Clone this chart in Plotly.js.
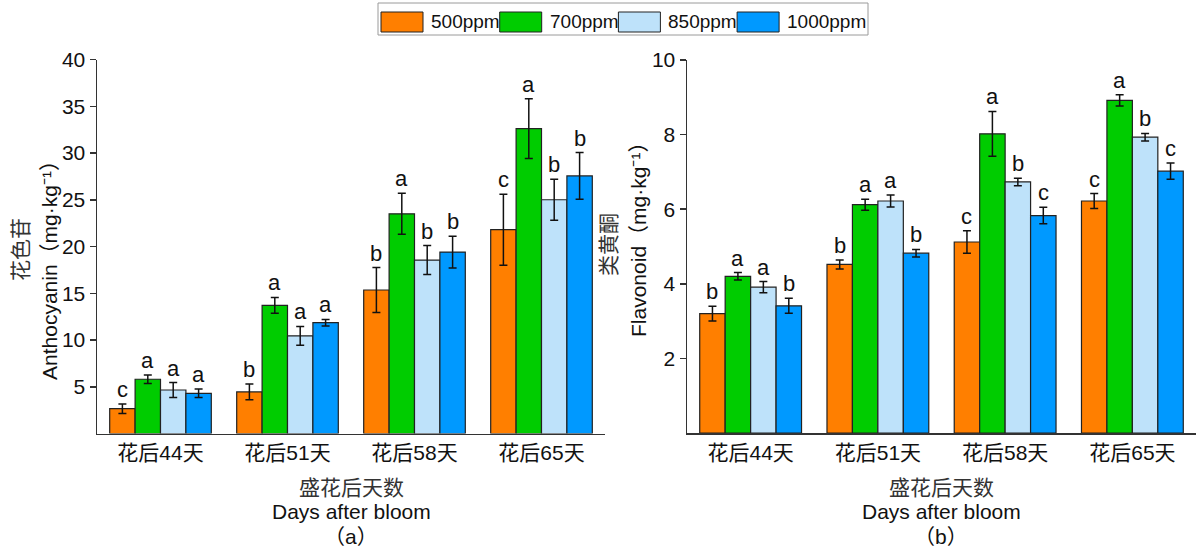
<!DOCTYPE html>
<html>
<head>
<meta charset="utf-8">
<script src="https://cdn.plot.ly/plotly-3.0.1.min.js"></script>
<style>html,body{margin:0;padding:0;background:#fff;}#chart{width:1196px;height:548px;}</style>
</head>
<body>
<div id="chart"></div>
<script>
// ---- data ----
const categories = ['花后44天', '花后51天', '花后58天', '花后65天'];
const seriesNames = ['500ppm', '700ppm', '850ppm', '1000ppm'];

// (a) Anthocyanin
const anth500 = [2.65, 4.45, 15.35, 21.8];
const anth700 = [5.8, 13.7, 23.5, 32.6];
const anth850 = [4.65, 10.45, 18.55, 25.0];
const anth1000 = [4.3, 11.85, 19.4, 27.55];
const anthErr500 = [0.5, 0.85, 2.4, 3.8];
const anthErr700 = [0.45, 0.85, 2.2, 3.2];
const anthErr850 = [0.8, 1.0, 1.55, 2.2];
const anthErr1000 = [0.45, 0.35, 1.7, 2.5];
const anthLetters500 = ['c', 'b', 'b', 'c'];
const anthLetters700 = ['a', 'a', 'a', 'a'];
const anthLetters850 = ['a', 'a', 'b', 'b'];
const anthLetters1000 = ['a', 'a', 'b', 'b'];

// (b) Flavonoid
const flav500 = [3.2, 4.52, 5.12, 6.22];
const flav700 = [4.2, 6.12, 8.02, 8.92];
const flav850 = [3.91, 6.22, 6.73, 7.93];
const flav1000 = [3.41, 4.82, 5.83, 7.02];
const flavErr500 = [0.2, 0.12, 0.3, 0.2];
const flavErr700 = [0.1, 0.15, 0.6, 0.15];
const flavErr850 = [0.15, 0.16, 0.1, 0.1];
const flavErr1000 = [0.2, 0.1, 0.22, 0.22];
const flavLetters500 = ['b', 'b', 'c', 'c'];
const flavLetters700 = ['a', 'a', 'a', 'a'];
const flavLetters850 = ['a', 'a', 'b', 'b'];
const flavLetters1000 = ['b', 'b', 'c', 'c'];

const anthTicks = [5, 10, 15, 20, 25, 30, 35, 40];
const flavTicks = [2, 4, 6, 8, 10];

// ---- styling ----
const colors = ['#FF7F00', '#00CC00', '#BEE2FA', '#0099FF'];
const FONT = 'Liberation Sans, Arial, "Noto Sans CJK SC", sans-serif';
const W = 1196, H = 548;
const px = v => v / W;
const py = v => 1 - v / H;

const xIdx = categories.map((c, i) => i);
const anthVals = [anth500, anth700, anth850, anth1000];
const anthErrs = [anthErr500, anthErr700, anthErr850, anthErr1000];
const anthLets = [anthLetters500, anthLetters700, anthLetters850, anthLetters1000];
const flavVals = [flav500, flav700, flav850, flav1000];
const flavErrs = [flavErr500, flavErr700, flavErr850, flavErr1000];
const flavLets = [flavLetters500, flavLetters700, flavLetters850, flavLetters1000];

const traces = [];
const annotations = [];
const groupWidth = 0.8, nS = seriesNames.length, bw = groupWidth / nS;

function addPanel(vals, errs, lets, xa, ya) {
  vals.forEach((v, k) => {
    traces.push({
      type: 'bar', x: xIdx, y: v, name: seriesNames[k], xaxis: xa, yaxis: ya,
      marker: {color: colors[k], line: {color: '#222', width: 1.2}},
      error_y: {type: 'data', array: errs[k], visible: true, color: '#111', thickness: 1.5, width: 4},
      showlegend: false, hoverinfo: 'y'
    });
    v.forEach((val, i) => {
      annotations.push({
        xref: xa, yref: ya, x: i + (k - (nS - 1) / 2) * bw, y: val + errs[k][i],
        text: lets[k][i], showarrow: false, yanchor: 'bottom', xanchor: 'center',
        font: {family: FONT, size: 22, color: '#111'}
      });
    });
  });
}
addPanel(anthVals, anthErrs, anthLets, 'x', 'y');
addPanel(flavVals, flavErrs, flavLets, 'x2', 'y2');

// axis titles as annotations
function txt(x, y, text, opts) {
  annotations.push(Object.assign({xref: 'paper', yref: 'paper', x: px(x), y: py(y), text: text,
    showarrow: false, xanchor: 'center', yanchor: 'middle', font: {family: FONT, size: 21, color: '#111'}}, opts || {}));
}
txt(20, 250, '花色苷', {textangle: -90, font: {family: FONT, size: 21, color: '#333'}});
txt(50, 265, 'Anthocyanin（mg·kg⁻¹）', {textangle: -90});
txt(608, 245, '类黄酮', {textangle: -90, font: {family: FONT, size: 21, color: '#333'}});
txt(639, 235, 'Flavonoid（mg·kg⁻¹）', {textangle: -90});
[[351, 'a'], [941, 'b']].forEach(([cx, lab]) => {
  txt(cx, 487, '盛花后天数', {font: {family: FONT, size: 21, color: '#333'}});
  txt(cx, 511, 'Days after bloom');
  txt(cx, 536, '（' + lab + '）');
});

// custom legend
const shapes = [{type: 'rect', xref: 'paper', yref: 'paper', x0: px(378), x1: px(868), y0: py(35), y1: py(3),
  line: {color: '#9a9a9a', width: 1}, fillcolor: 'rgba(0,0,0,0)'}];
seriesNames.forEach((n, k) => {
  const x0 = 381 + k * 118.7;
  shapes.push({type: 'rect', xref: 'paper', yref: 'paper', x0: px(x0), x1: px(x0 + 42), y0: py(32), y1: py(12),
    line: {color: '#222', width: 1}, fillcolor: colors[k]});
  txt(x0 + 48, 21, n, {xanchor: 'left', font: {family: FONT, size: 19, color: '#111'}});
});

const baseX = {range: [-0.5, 3.5], tickvals: xIdx, ticktext: categories, showline: true, linecolor: '#333',
  linewidth: 1.5, ticks: '', showgrid: false, zeroline: false, fixedrange: true,
  tickfont: {family: FONT, size: 21, color: '#111'}};
const baseY = {showline: true, linecolor: '#333', linewidth: 1.5, ticks: 'outside', ticklen: 6, tickwidth: 1.5,
  tickcolor: '#333', showgrid: false, zeroline: false, fixedrange: true,
  tickfont: {family: FONT, size: 21, color: '#111'}};

const layout = {
  width: W, height: H, margin: {l: 0, r: 0, t: 0, b: 0},
  paper_bgcolor: '#fff', plot_bgcolor: '#fff',
  barmode: 'group', bargap: 1 - groupWidth, bargroupgap: 0, showlegend: false,
  font: {family: FONT, size: 21, color: '#111'},
  xaxis: Object.assign({}, baseX, {domain: [px(97), px(605)], anchor: 'y'}),
  yaxis: Object.assign({}, baseY, {domain: [py(433.5), py(59.5)], range: [0, 40], tickvals: anthTicks, anchor: 'x'}),
  xaxis2: Object.assign({}, baseX, {domain: [px(687), 1], anchor: 'y2'}),
  yaxis2: Object.assign({}, baseY, {domain: [py(433), py(60)], range: [0, 10], tickvals: flavTicks, anchor: 'x2'}),
  annotations: annotations,
  shapes: shapes
};

Plotly.newPlot('chart', traces, layout, {staticPlot: true, displayModeBar: false});
</script>
</body>
</html>
